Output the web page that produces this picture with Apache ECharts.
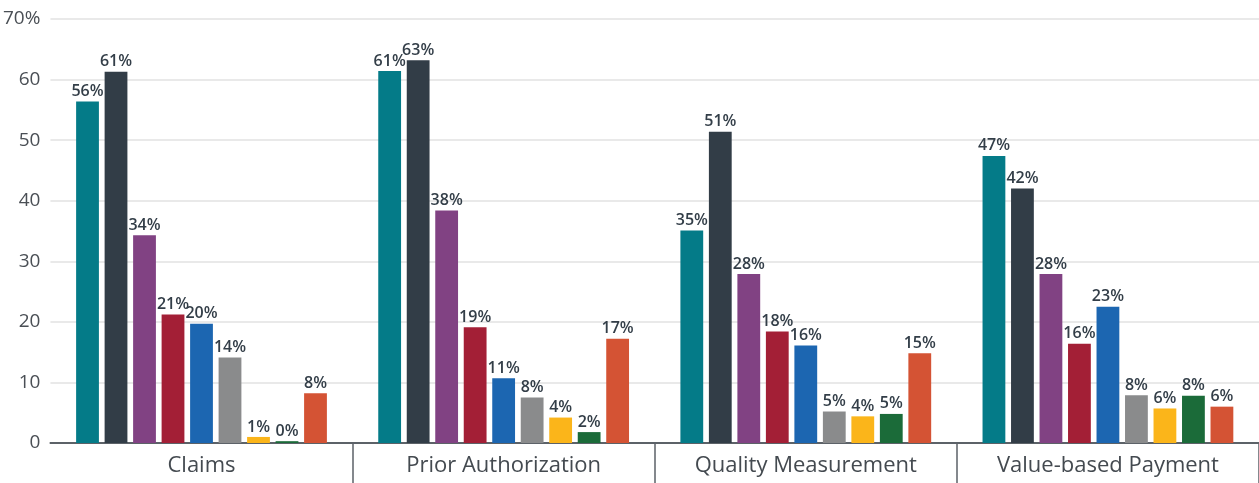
<!DOCTYPE html>
<html>
<head>
<meta charset="utf-8">
<script src="https://cdn.jsdelivr.net/npm/echarts@6/dist/echarts.min.js"></script>
<style>
  html, body { margin: 0; padding: 0; background: #fff; }
  #chart { width: 1259px; height: 483px; }
</style>
</head>
<body>
<div id="chart"></div>
<script>
  // categories (x axis)
  var categories = ['Claims', 'Prior Authorization', 'Quality Measurement', 'Value-based Payment'];

  // y axis ticks
  var yMin = 0;
  var yMax = 70;
  var yStep = 10;

  // series values, one array per colour, in category order
  var seriesA = [56.4, 61.4, 35.1, 47.4];
  var seriesB = [61.3, 63.2, 51.4, 42.0];
  var seriesC = [34.3, 38.4, 27.9, 27.9];
  var seriesD = [21.2, 19.1, 18.4, 16.4];
  var seriesE = [19.7, 10.7, 16.1, 22.5];
  var seriesF = [14.1, 7.5, 5.2, 7.9];
  var seriesG = [1.0, 4.2, 4.4, 5.7];
  var seriesH = [0.3, 1.8, 4.8, 7.8];
  var seriesI = [8.2, 17.2, 14.8, 6.0];

  var allSeries = [seriesA, seriesB, seriesC, seriesD, seriesE, seriesF, seriesG, seriesH, seriesI];
  var colors = ['#047b88', '#323d47', '#814283', '#a31f36', '#1c66b1', '#8a8b8c', '#fbb51a', '#1b6b39', '#d45334'];

  var chart = echarts.init(document.getElementById('chart'));

  var series = allSeries.map(function (vals, i) {
    return {
      type: 'bar',
      data: vals,
      barGap: '25%',
      barCategoryGap: '17%',
      itemStyle: { color: colors[i] },
      label: {
        show: true,
        position: 'top',
        distance: 2,
        color: '#333e48',
        fontFamily: 'Open Sans',
        fontWeight: 600,
        fontSize: 16,
        formatter: function (p) { return Math.round(p.value) + '%'; }
      }
    };
  });

  chart.setOption({
    animation: false,
    grid: {
      left: 44,
      right: 0,
      top: 19,
      bottom: 40,
      containLabel: false
    },
    xAxis: {
      type: 'category',
      data: categories,
      boundaryGap: true,
      axisLine: {
        lineStyle: { color: '#5c6268', width: 2 }
      },
      axisTick: {
        show: true,
        length: 40,
        interval: function (index) { return index !== 0; },
        lineStyle: { color: '#5c6268', width: 1.5 }
      },
      axisLabel: {
        margin: 12,
        color: '#444a50',
        fontFamily: 'Open Sans',
        fontSize: 22
      }
    },
    yAxis: {
      type: 'value',
      min: yMin,
      max: yMax,
      interval: yStep,
      axisLine: { show: false },
      axisTick: { show: false },
      axisLabel: {
        margin: 10,
        color: '#4a4f55',
        fontFamily: 'Open Sans',
        fontSize: 19,
        formatter: function (v) { return v === yMax ? v + '%' : v; }
      },
      splitLine: {
        lineStyle: { color: '#e2e2e2', width: 1.5 }
      }
    },
    series: series
  });
</script>
</body>
</html>
